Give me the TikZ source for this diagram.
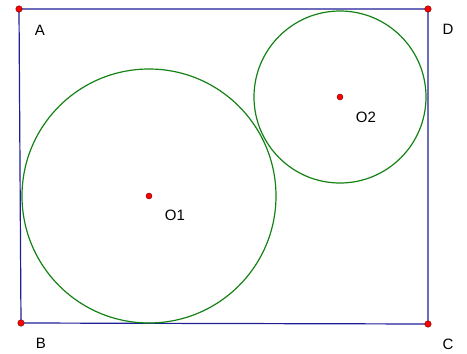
\documentclass[tikz,border=0pt]{standalone}
\usepackage{fontspec}
\setmainfont{Liberation Sans}
\begin{document}
\begin{tikzpicture}[x=1pt,y=-1pt,
  side/.style={draw={rgb,255:red,30;green,30;blue,150},line width=1.2pt},
  circ/.style={draw={rgb,255:red,20;green,130;blue,20},line width=1.2pt},
  pt/.style={circle,fill=red,draw=black!60!red,line width=0.4pt,inner sep=0pt,minimum size=6.5pt},
  lbl/.style={font=\fontsize{15}{18}\selectfont,inner sep=0pt}]
\useasboundingbox (0,0) rectangle (467,354);
\coordinate (A) at (19,9);
\coordinate (D) at (428,9);
\coordinate (B) at (21,323);
\coordinate (C) at (428,324);
\coordinate (O1) at (149,196);
\coordinate (O2) at (340,97);
\draw[side] (A) -- (D) -- (C) -- (B) -- cycle;
\draw[circ] (O1) circle (127);
\draw[circ] (O2) circle (86);
\node[pt] (pA) at (A) {};
\node[pt] (pB) at (B) {};
\node[pt] (pC) at (C) {};
\node[pt] (pD) at (D) {};
\node[pt,minimum size=6pt] (pO1) at (O1) {};
\node[pt,minimum size=6pt] (pO2) at (O2) {};
\node[lbl] (lA) at (40,30) {A};
\node[lbl] (lD) at (448,29) {D};
\node[lbl] (lB) at (41,343) {B};
\node[lbl] (lC) at (448,344) {C};
\node[lbl] (lO1) at (175,215) {O1};
\node[lbl] (lO2) at (366,117) {O2};
\end{tikzpicture}
\end{document}
